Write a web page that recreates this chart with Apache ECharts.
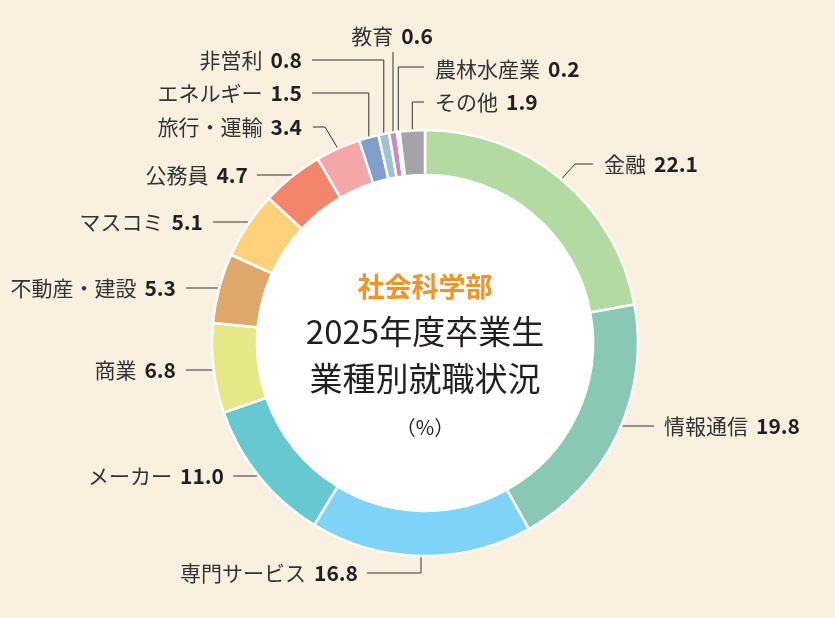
<!DOCTYPE html>
<html>
<head>
<meta charset="utf-8">
<script src="https://cdn.jsdelivr.net/npm/echarts@6/dist/echarts.min.js"></script>
<style>
html,body{margin:0;padding:0;background:#faf0e0;}
#c{width:835px;height:618px;}
</style>
</head>
<body>
<div id="c"></div>
<script>
// ---- data ----
const categories = ['金融','情報通信','専門サービス','メーカー','商業','不動産・建設','マスコミ','公務員','旅行・運輸','エネルギー','非営利','教育','農林水産業','その他'];
const values = [22.1, 19.8, 16.8, 11.0, 6.8, 5.3, 5.1, 4.7, 3.4, 1.5, 0.8, 0.6, 0.2, 1.9];
const colors = ['#b3dba1','#89c8b4','#7fd3f6','#66c8d1','#e6e786','#dfa86b','#fed27b','#f2856c','#f5a6a7','#809fca','#a0c3d3','#d08ab6','#f3ecef','#a3a3a8'];
const titleLines = ['社会科学部','2025年度卒業生','業種別就職状況','（%）'];

// ---- layout (styles/positions) ----
const CX = 425, CY = 343, R0 = 168, R1 = 213;
function ringX(y, side){ const d = Math.sqrt(Math.max(0, (R1+1)*(R1+1) - (y-CY)*(y-CY))); return CX + side*d; }
const labelSpec = [
  {x:604, y:164, align:'left',  line:(p)=>[p,[575,164],[593,164]]},
  {x:664, y:426, align:'left',  line:(p)=>[[ringX(426,1),426],[654,426]]},
  {x:358, y:573, align:'right', line:(p)=>[p,[p[0],573],[367,573]]},
  {x:224, y:476, align:'right', line:(p)=>[[ringX(476,-1),476],[233,476]]},
  {x:176, y:370, align:'right', line:(p)=>[[ringX(370,-1),370],[186,370]]},
  {x:176, y:288, align:'right', line:(p)=>[[ringX(288,-1),288],[186,288]]},
  {x:203, y:222, align:'right', line:(p)=>[[ringX(222,-1),222],[213,222]]},
  {x:248, y:175, align:'right', line:(p)=>[[ringX(175,-1),175],[257,175]]},
  {x:302, y:127, align:'right', line:(p)=>[p,[325,127],[313,127]]},
  {x:302, y:93,  align:'right', line:(p)=>[p,[p[0],93],[312,93]]},
  {x:302, y:60,  align:'right', line:(p)=>[p,[p[0],60],[312,60]]},
  {x:392, y:36,  align:'center',line:(p)=>[p,[p[0],52]]},
  {x:435, y:69,  align:'left',  line:(p)=>[p,[p[0],67],[424,67]]},
  {x:435, y:102, align:'left',  line:(p)=>[p,[p[0],102],[424,102]]}
];

const chart = echarts.init(document.getElementById('c'), null, {renderer:'canvas'});
const FONT = '"Noto Sans CJK JP", "Noto Sans", sans-serif';
chart.setOption({
  backgroundColor:'#faf0e0',
  animation:false,
  graphic:[
    {type:'circle', z:0, silent:true, shape:{cx:CX, cy:CY, r:R0}, style:{fill:'#ffffff'}},
    {type:'text', z:100, x:CX, y:287, style:{text:titleLines[0], font:'bold 27px '+FONT, fill:'#f39422', align:'center', verticalAlign:'middle'}},
    {type:'text', z:100, x:CX, y:331, style:{text:titleLines[1], font:'400 33px '+FONT, fill:'#231f20', align:'center', verticalAlign:'middle'}},
    {type:'text', z:100, x:CX, y:378, style:{text:titleLines[2], font:'400 33px '+FONT, fill:'#231f20', align:'center', verticalAlign:'middle'}},
    {type:'text', z:100, x:CX, y:427, style:{text:titleLines[3], font:'400 20px '+FONT, fill:'#231f20', align:'center', verticalAlign:'middle'}}
  ],
  series:[{
    type:'pie',
    center:[CX, CY],
    radius:[R0, R1],
    startAngle:90,
    clockwise:true,
    avoidLabelOverlap:false,
    minShowLabelAngle:0,
    itemStyle:{borderColor:'#ffffff', borderWidth:2.5},
    label:{
      show:true,
      position:'outside',
      formatter:(p)=>'{n|'+p.name+'}{v|'+p.value.toFixed(1)+'}',
      rich:{
        n:{fontFamily:FONT, fontSize:21, color:'#333333', fontWeight:400},
        v:{fontFamily:FONT, fontSize:21, color:'#231f20', fontWeight:'bold', padding:[0,0,0,8]}
      }
    },
    labelLine:{show:true, length:10, length2:10, lineStyle:{color:'#333333', width:1}},
    labelLayout:function(params){
      const s = labelSpec[params.dataIndex];
      const p0 = params.labelLinePoints ? params.labelLinePoints[0] : [CX, CY];
      return {x:s.x, y:s.y, align:s.align, verticalAlign:'middle', labelLinePoints:s.line(p0)};
    },
    emphasis:{disabled:true},
    data:categories.map((c,i)=>({name:c, value:values[i], itemStyle:{color:colors[i]}}))
  }]
});
</script>
</body>
</html>
